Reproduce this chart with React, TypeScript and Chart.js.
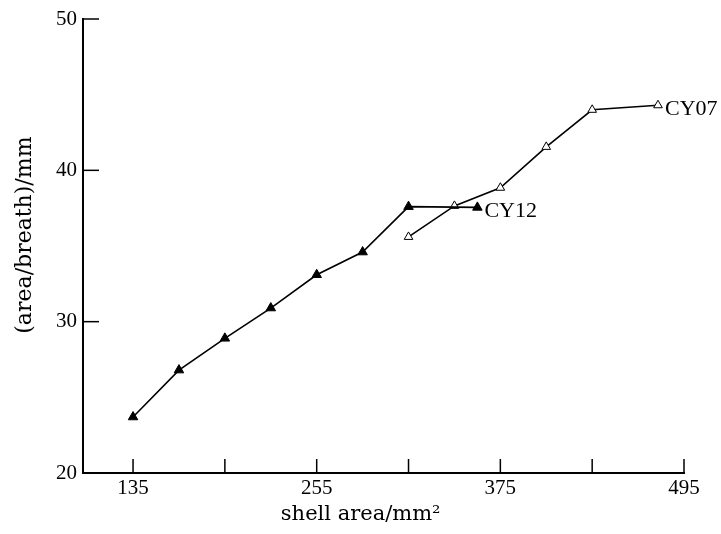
import { useEffect, useRef } from 'react';
import { Chart, registerables } from 'chart.js';

Chart.register(...registerables);

// ---- data ----
const seriesNames = ['CY12', 'CY07'];
const filledX = [135, 165, 195, 225, 255, 285, 315, 360];
const filledY = [23.7, 26.8, 28.9, 30.9, 33.1, 34.6, 37.6, 37.55];
const openX = [315, 345, 375, 405, 435, 478];
const openY = [35.6, 37.65, 38.85, 41.55, 44.0, 44.3];
const xTicks = [135, 195, 255, 315, 375, 435, 495];
const xLabelTicks = [135, 255, 375, 495];
const yTicks = [20, 30, 40, 50];
const xTitle = 'shell area/mm²';
const yTitle = '(area/breath)/mm';

const decorPlugin = {
  id: 'decor',
  afterDraw(chart: any) {
    const { ctx, chartArea: a } = chart;
    const xs = chart.scales.x;
    const ys = chart.scales.y;
    ctx.save();
    ctx.strokeStyle = '#000';
    ctx.lineWidth = 1.5;
    xTicks.forEach((v) => {
      if (v <= xs.min) return;
      const px = xs.getPixelForValue(v);
      ctx.beginPath();
      ctx.moveTo(px, a.bottom);
      ctx.lineTo(px, a.bottom - 14);
      ctx.stroke();
    });
    yTicks.forEach((v) => {
      if (v <= ys.min) return;
      const py = ys.getPixelForValue(v);
      ctx.beginPath();
      ctx.moveTo(a.left, py);
      ctx.lineTo(a.left + 16, py);
      ctx.stroke();
    });
    // series labels at the end of each line
    ctx.fillStyle = '#000';
    ctx.font = '22px "Liberation Serif"';
    ctx.textAlign = 'left';
    ctx.textBaseline = 'middle';
    chart.data.datasets.forEach((ds: any, i: number) => {
      const meta = chart.getDatasetMeta(i);
      const pt = meta.data[meta.data.length - 1];
      ctx.fillText(ds.label, pt.x + 7, pt.y + 4);
    });
    // axis titles
    ctx.font = '21px "DejaVu Serif"';
    ctx.textAlign = 'center';
    ctx.fillText(xTitle, a.left + (a.right - a.left) * 0.462, a.bottom + 42);
    ctx.save();
    ctx.translate(25, a.top + (a.bottom - a.top) * 0.476);
    ctx.rotate(-Math.PI / 2);
    ctx.font = '22px "DejaVu Serif"';
    ctx.fillText(yTitle, 0, 0);
    ctx.restore();
    ctx.restore();
  },
};

export default function App() {
  const ref = useRef<HTMLCanvasElement | null>(null);
  useEffect(() => {
    if (!ref.current) return;
    const chart = new Chart(ref.current, {
      type: 'line',
      data: {
        datasets: [
          {
            label: seriesNames[0],
            data: filledX.map((x, i) => ({ x, y: filledY[i] })),
            borderColor: '#000',
            borderWidth: 1.6,
            pointStyle: 'triangle',
            pointRadius: 5.5,
            pointBackgroundColor: '#000',
            pointBorderColor: '#000',
            pointBorderWidth: 1,
            tension: 0,
            fill: false,
          },
          {
            label: seriesNames[1],
            data: openX.map((x, i) => ({ x, y: openY[i] })),
            borderColor: '#000',
            borderWidth: 1.6,
            pointStyle: 'triangle',
            pointRadius: 5,
            pointBackgroundColor: '#fff',
            pointBorderColor: '#000',
            pointBorderWidth: 1,
            tension: 0,
            fill: false,
          },
        ],
      },
      options: {
        animation: false,
        responsive: true,
        maintainAspectRatio: false,
        layout: { padding: { top: 19, right: 37, left: 0, bottom: 0 } },
        plugins: {
          legend: { display: false },
          tooltip: { enabled: false },
          title: { display: false },
        },
        scales: {
          x: {
            type: 'linear',
            min: 102.3,
            max: 495,
            grid: { display: false, drawTicks: false },
            border: { display: true, color: '#000', width: 2 },
            afterBuildTicks: (s: any) => {
              s.ticks = xTicks.map((v) => ({ value: v }));
            },
            afterFit: (s: any) => {
              s.height = 61;
            },
            ticks: {
              autoSkip: false,
              maxRotation: 0,
              padding: 3,
              color: '#000',
              font: { family: '"Liberation Serif"', size: 21 },
              callback: (v: any) => (xLabelTicks.includes(Number(v)) ? String(v) : ''),
            },
          },
          y: {
            type: 'linear',
            min: 20,
            max: 50,
            grid: { display: false, drawTicks: false },
            border: { display: true, color: '#000', width: 2 },
            afterBuildTicks: (s: any) => {
              s.ticks = yTicks.map((v) => ({ value: v }));
            },
            afterFit: (s: any) => {
              s.width = 83;
            },
            ticks: {
              padding: 6,
              color: '#000',
              font: { family: '"Liberation Serif"', size: 21 },
            },
          },
        },
      },
      plugins: [decorPlugin],
    });
    return () => chart.destroy();
  }, []);
  return (
    <div style={{ position: 'fixed', left: 0, top: 0, width: 721, height: 534, background: '#fff' }}>
      <canvas ref={ref} />
    </div>
  );
}
